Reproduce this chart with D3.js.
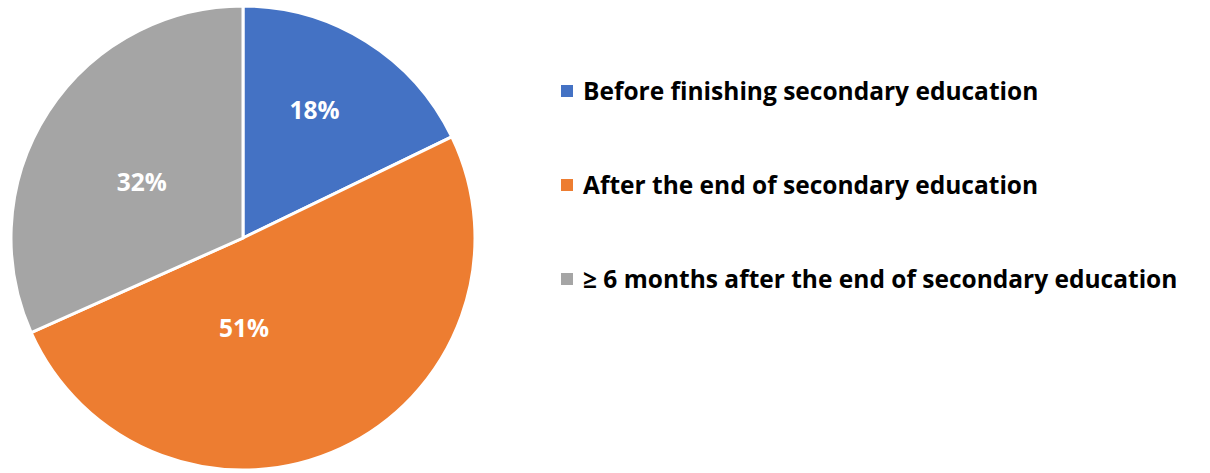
<!DOCTYPE html>
<meta charset="utf-8">
<style>
  body { margin: 0; background: #fff; }
  text { font-family: "Open Sans", Lato, sans-serif; font-weight: 700; font-variant-ligatures: none; }
  .slice { stroke: #fff; stroke-width: 3; }
  .pct { fill: #fff; font-size: 24.5px; }
  .legend text { fill: #000; font-size: 24.5px; }
</style>
<svg width="1210" height="473"></svg>
<script src="https://d3js.org/d3.v7.min.js"></script>
<script>

  var categories = ["Before finishing secondary education",
                    "After the end of secondary education",
                    "\u2265 6 months after the end of secondary education"];
  var values = [18, 51, 32];
  var labels = ["18%", "51%", "32%"];
  var colors = ["#4472C4", "#ED7D31", "#A5A5A5"];

  var svg = d3.select("svg"),
      cx = 243, cy = 238, radius = 232;

  var pie = d3.pie().sort(null).value(function(d) { return d; });
  var arc = d3.arc().innerRadius(0).outerRadius(radius);

  // nudges so the labels sit roughly where Excel put them
  var nudge = [[10, -29], [-48, -15], [-4, 8]];

  var g = svg.append("g")
    .attr("transform", "translate(" + cx + "," + cy + ")");

  var arcs = pie(values);

  g.selectAll(".slice")
    .data(arcs)
    .enter().append("path")
    .attr("class", "slice")
    .attr("d", arc)
    .attr("fill", function(d, i) { return colors[i]; });

  g.selectAll(".pct")
    .data(arcs)
    .enter().append("text")
    .attr("class", "pct")
    .attr("text-anchor", "middle")
    .attr("dy", "0.35em")
    .attr("transform", function(d, i) {
      var c = arc.centroid(d);
      return "translate(" + (c[0] + nudge[i][0]) + "," + (c[1] + nudge[i][1]) + ")";
    })
    .text(function(d, i) { return labels[i]; });

  var y = d3.scalePoint().domain(categories).range([91, 279]);

  var legend = svg.append("g").attr("class", "legend")
    .selectAll("g")
    .data(categories)
    .enter().append("g")
    .attr("transform", function(d) { return "translate(561," + y(d) + ")"; });

  legend.append("rect")
    .attr("x", 0).attr("y", -6)
    .attr("width", 12).attr("height", 12)
    .attr("fill", function(d, i) { return colors[i]; });

  legend.append("text")
    .attr("x", 22)
    .attr("dy", "0.35em")
    .text(function(d) { return d; });

</script>
